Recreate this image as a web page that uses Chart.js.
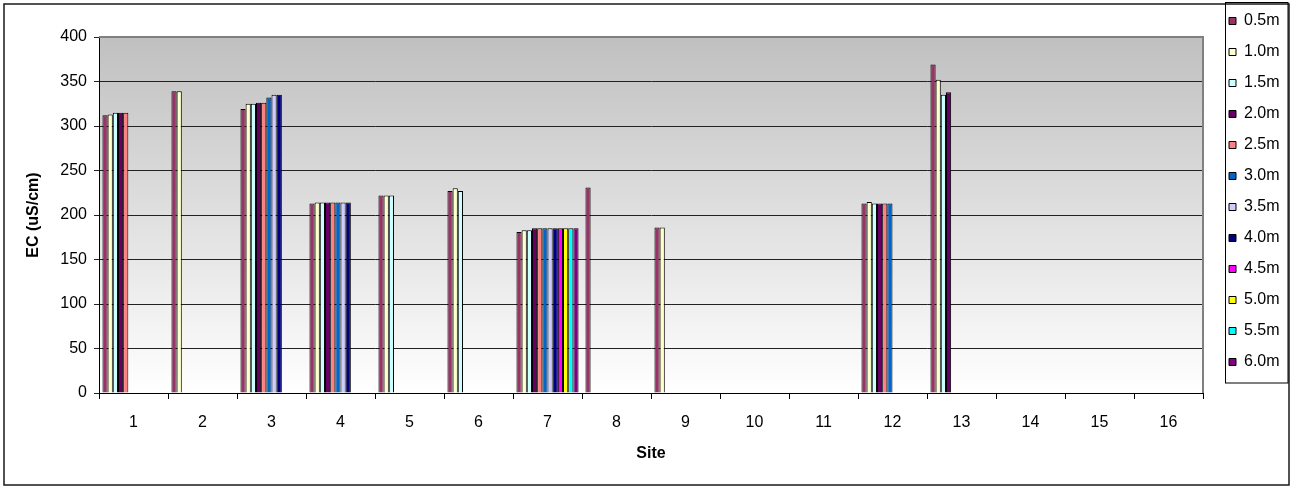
<!DOCTYPE html>
<html>
<head>
<meta charset="utf-8">
<title>EC by site and depth</title>
<script src="https://cdn.jsdelivr.net/npm/chart.js@4.4.1/dist/chart.umd.min.js"></script>
<style>
  html, body { margin: 0; padding: 0; background: #ffffff; }
  #wrap { position: relative; width: 1293px; height: 489px; }
</style>
</head>
<body>
<div id="wrap"><canvas id="ecChart" width="1293" height="489"></canvas></div>
<script>
// Sites along the x axis
const sites = ['1', '2', '3', '4', '5', '6', '7', '8', '9', '10', '11', '12', '13', '14', '15', '16'];

// Sampling depths (one series each)
const depths = ['0.5m', '1.0m', '1.5m', '2.0m', '2.5m', '3.0m', '3.5m', '4.0m', '4.5m', '5.0m', '5.5m', '6.0m'];

// EC readings (uS/cm) per depth, one value per site; null = not sampled
const n = null;
const ec05 = [312, 339, 319, 213, 222, 227, 181, 231, 186, n, n, 213, 369, n, n, n];
const ec10 = [313, 339, 325, 214, 222, 230, 183, n, 186, n, n, 214.5, 352, n, n, n];
const ec15 = [315, n, 325, 214, 222, 227, 183, n, n, n, n, 213, 335, n, n, n];
const ec20 = [315, n, 326, 214, n, n, 185, n, n, n, n, 213, 338, n, n, n];
const ec25 = [315, n, 326, 214, n, n, 185, n, n, n, n, 213, n, n, n, n];
const ec30 = [n, n, 332, 214, n, n, 185, n, n, n, n, 213, n, n, n, n];
const ec35 = [n, n, 335, 214, n, n, 185, n, n, n, n, n, n, n, n, n];
const ec40 = [n, n, 335, 214, n, n, 185, n, n, n, n, n, n, n, n, n];
const ec45 = [n, n, n, n, n, n, 185, n, n, n, n, n, n, n, n, n];
const ec50 = [n, n, n, n, n, n, 185, n, n, n, n, n, n, n, n, n];
const ec55 = [n, n, n, n, n, n, 185, n, n, n, n, n, n, n, n, n];
const ec60 = [n, n, n, n, n, n, 185, n, n, n, n, n, n, n, n, n];

// Value axis range
const yMin = 0, yMax = 400, yStep = 50;

const seriesValues = [ec05, ec10, ec15, ec20, ec25, ec30, ec35, ec40, ec45, ec50, ec55, ec60];
const seriesColors = ['#993366', '#FFFFCC', '#CCFFFF', '#660066', '#FF8080', '#0066CC',
                      '#CCCCFF', '#000080', '#FF00FF', '#FFFF00', '#00FFFF', '#800080'];

Chart.defaults.font.family = '"Liberation Sans", Arial, sans-serif';
Chart.defaults.color = '#000';

// Grey-to-white plot background, grey plot frame, outer frame and legend box
const chartFrame = {
  id: 'chartFrame',
  afterUpdate(chart) {
    const lg = chart.legend;
    if (!lg) return;
    lg.left = 1214; lg.right = 1289; lg.width = 75;
    lg.top = -2; lg.bottom = 489; lg.height = 491;
  },
  beforeDraw(chart) {
    const { ctx, chartArea: a } = chart;
    const g = ctx.createLinearGradient(0, a.top, 0, a.bottom);
    g.addColorStop(0, '#c0c0c0');
    g.addColorStop(1, '#ffffff');
    ctx.save();
    ctx.fillStyle = g;
    ctx.fillRect(a.left, a.top, a.right - a.left, a.bottom - a.top);
    ctx.restore();
  },
  beforeDatasetsDraw(chart) {
    const { ctx, chartArea: a } = chart;
    ctx.save();
    ctx.strokeStyle = '#808080';
    ctx.lineWidth = 2;
    ctx.beginPath();
    ctx.moveTo(a.left, a.top);
    ctx.lineTo(a.right, a.top);
    ctx.lineTo(a.right, a.bottom);
    ctx.stroke();
    ctx.restore();
  },
  afterDraw(chart) {
    const ctx = chart.ctx;
    ctx.save();
    ctx.strokeStyle = '#1a1a1a';
    ctx.lineWidth = 1.5;
    ctx.strokeRect(4, 4, 1285, 481);
    ctx.strokeStyle = '#000';
    ctx.lineWidth = 1;
    ctx.strokeRect(1225.5, 2.5, 62.5, 380.5);
    ctx.restore();
  }
};

new Chart(document.getElementById('ecChart'), {
  type: 'bar',
  data: {
    labels: sites,
    datasets: depths.map((d, i) => ({
      label: d,
      data: seriesValues[i],
      backgroundColor: seriesColors[i],
      borderColor: '#000',
      borderWidth: 1,
      categoryPercentage: 0.9,
      barPercentage: 1.0
    }))
  },
  options: {
    responsive: false,
    animation: false,
    layout: { padding: { top: 37, right: 20, bottom: 0, left: 0 } },
    plugins: {
      legend: {
        position: 'right',
        align: 'start',
        maxWidth: 70,
        labels: {
          boxWidth: 7,
          boxHeight: 7,
          padding: 15,
          color: '#000',
          font: { size: 16 }
        }
      },
      tooltip: { enabled: false }
    },
    scales: {
      x: {
        offset: true,
        grid: { display: true, drawOnChartArea: false, drawTicks: true, tickLength: 6, color: '#000', offset: true },
        border: { color: '#000', width: 1 },
        ticks: { color: '#000', font: { size: 16 }, padding: 14, maxRotation: 0, autoSkip: false },
        title: { display: true, text: 'Site', color: '#000', font: { size: 16, weight: 'bold' }, padding: { top: 0, bottom: 26 } },
        afterFit(scale) { scale.height = 96; }
      },
      y: {
        min: yMin,
        max: yMax,
        ticks: { stepSize: yStep, color: '#000', font: { size: 16 }, padding: 7 },
        grid: { color: '#222', tickLength: 5 },
        border: { color: '#000', width: 1 },
        title: { display: true, text: 'EC (uS/cm)', color: '#000', font: { size: 16, weight: 'bold' }, padding: { top: 24, bottom: 0 } },
        afterFit(scale) { scale.width = 99; }
      }
    }
  },
  plugins: [chartFrame]
});
</script>
</body>
</html>
